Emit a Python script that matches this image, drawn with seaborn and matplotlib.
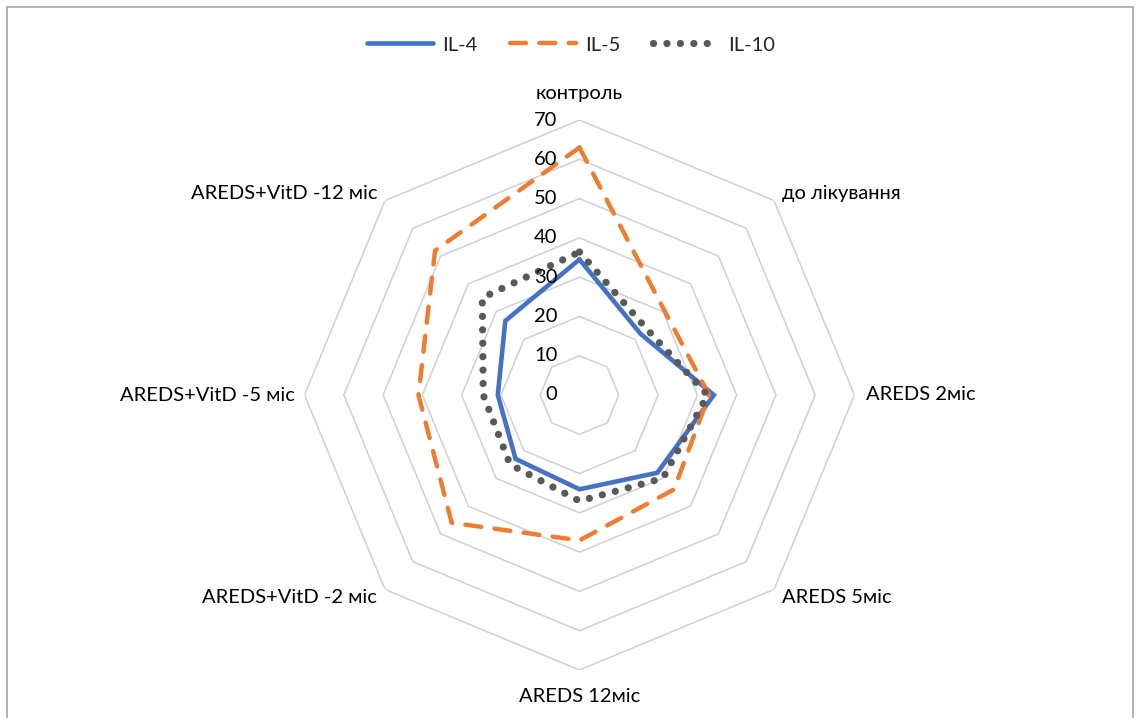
import numpy as np
import pandas as pd
import matplotlib
matplotlib.use("Agg")
import matplotlib.pyplot as plt
from matplotlib.lines import Line2D
from matplotlib.patches import Rectangle
import seaborn as sns

categories = ["контроль", "до лікування", "AREDS 2міс", "AREDS 5міс",
              "AREDS 12міс", "AREDS+VitD -2 міс", "AREDS+VitD -5 міс",
              "AREDS+VitD -12 міс"]
il4 = [34.5, 22, 34.2, 28, 24, 23, 20.8, 26.7]
il5 = [63, 30.5, 33, 34, 37, 46, 41, 52]
il10 = [36.4, 24, 32.6, 30, 27, 25, 24.5, 35]
series_names = ["IL-4", "IL-5", "IL-10"]
r_ticks = [0, 10, 20, 30, 40, 50, 60, 70]

sns.set_theme(style="white")
plt.rcParams['font.family'] = ['Lato', 'DejaVu Sans']

FS = 14.5
W, H = 1140, 718
fig = plt.figure(figsize=(W / 100, H / 100), dpi=100)
cx, cy, R = 579.5, H - 395, 275
ax = fig.add_axes([(cx - R) / W, (cy - R) / H, 2 * R / W, 2 * R / H],
                  projection='polar')
ax.set_theta_zero_location('N')
ax.set_theta_direction(-1)
ax.set_ylim(0, 70)
ax.grid(False)
ax.set_xticks([])
ax.set_yticks([])
ax.spines['polar'].set_visible(False)
ax.patch.set_alpha(0)

n = len(categories)
theta = np.linspace(0, 2 * np.pi, n, endpoint=False)
theta_c = np.append(theta, 2 * np.pi)

# octagon grid
for lv in r_ticks[1:]:
    ax.plot(theta_c, [lv] * (n + 1), color='#d0d0d0', lw=1.1, zorder=1)

styles = {
    "IL-4": dict(color='#4472C4', lw=3.3, linestyle='-', solid_joinstyle='miter'),
    "IL-5": dict(color='#ED7D31', lw=3.2, linestyle=(0, (3.6, 3.0)),
                 dash_capstyle='round'),
    "IL-10": dict(color='#595959', lw=5.2, linestyle=(0, (0.01, 1.85)),
                  dash_capstyle='round'),
}
for name, vals in zip(series_names, [il4, il5, il10]):
    df = pd.DataFrame({"theta": theta_c, "value": list(vals) + [vals[0]]})
    sns.lineplot(data=df, x="theta", y="value", ax=ax, sort=False,
                 zorder=3, **styles[name])
ax.set_xlabel("")
ax.set_ylabel("")

# radial labels
for lv in r_ticks:
    ax.annotate(str(lv), xy=(0, lv), xytext=(-22, 0), textcoords='offset pixels',
                ha='right', va='center', fontsize=FS, color='#000000')

# category labels
offs = [(0, 27, 'center'), (8, 7, 'left'), (12, 0, 'left'), (8, -8, 'left'),
        (0, -27, 'center'), (-8, -8, 'right'), (-10, 0, 'right'), (-8, 7, 'right')]
for th, lab, (dx, dy, ha) in zip(theta, categories, offs):
    ax.annotate(lab, xy=(th, 70), xytext=(dx, dy), textcoords='offset pixels',
                ha=ha, va='center', fontsize=FS, color='#000000')

handles = [Line2D([0], [0], **styles[nm]) for nm in series_names]
fig.legend(handles, series_names, loc='center', bbox_to_anchor=(571 / W, 1 - 45 / H),
           ncol=3, frameon=False, fontsize=FS, handlelength=3.3,
           handletextpad=0.45, columnspacing=1.6)

fig.patches.append(Rectangle((7 / W, -0.05), (1133 - 7) / W, 1.05 - 7 / H,
                             transform=fig.transFigure, fill=False,
                             edgecolor='#a6a6a6', lw=1.2))

fig.savefig("out.png", dpi=100)
